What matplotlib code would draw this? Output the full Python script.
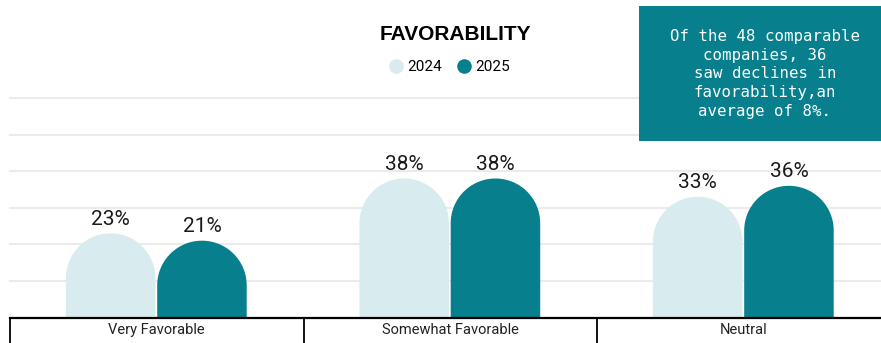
import numpy as np
import matplotlib
matplotlib.use("Agg")
import matplotlib.pyplot as plt
from matplotlib.path import Path
from matplotlib.patches import PathPatch, Rectangle
from matplotlib.lines import Line2D

# ---- data ----
categories = ["Very Favorable", "Somewhat Favorable", "Neutral"]
series_names = ["2024", "2025"]
values_2024 = [23, 38, 33]
values_2025 = [21, 38, 36]
grid_ticks = [10, 20, 30, 40, 50, 60]
title = "FAVORABILITY"
note = "Of the 48 comparable\ncompanies, 36\nsaw declines in\nfavorability,an\naverage of 8%."

# ---- style ----
LIGHT = "#d8ebee"
DARK = "#077f8c"
W, H, DPI = 881, 343, 100

fig = plt.figure(figsize=(W / DPI, H / DPI), dpi=DPI)
fig.patch.set_facecolor("white")

ax_left, ax_bottom_px, ax_top_px = 10, 317.5, 98
ax_width_px = 880.5
ax = fig.add_axes([ax_left / W, (H - ax_bottom_px) / H,
                   ax_width_px / W, (ax_bottom_px - ax_top_px) / H])
ax.set_xlim(-0.5, len(categories) - 0.5)
ax.set_ylim(0, 60)
ax.set_facecolor("none")
for s in ax.spines.values():
    s.set_visible(False)
ax.set_xticks([])
ax.set_yticks([])

# light horizontal gridlines
for g in grid_ticks:
    ax.axhline(g, color="#ebebeb", lw=1.5, zorder=0, clip_on=False)

# pixel-to-data scales so the rounded caps are true semicircles
x_per_px = (len(categories)) / ax_width_px
y_per_px = 60 / (ax_bottom_px - ax_top_px)

bar_w = 0.305
offsets = [-0.157, 0.154]
colors = [LIGHT, DARK]


def rounded_bar(xc, height, width, color):
    half = width / 2
    ry = half / x_per_px * y_per_px
    t = np.linspace(np.pi, 0, 60)
    arc_x = xc + half * np.cos(t)
    arc_y = (height - ry) + ry * np.sin(t)
    verts = [(xc - half, 0)] + list(zip(arc_x, arc_y)) + [(xc + half, 0), (xc - half, 0)]
    codes = [Path.MOVETO] + [Path.LINETO] * (len(verts) - 2) + [Path.CLOSEPOLY]
    ax.add_patch(PathPatch(Path(verts, codes), facecolor=color, edgecolor="none", zorder=2))


for vals, off, col in zip([values_2024, values_2025], offsets, colors):
    for i, v in enumerate(vals):
        xc = i + off
        rounded_bar(xc, v, bar_w, col)
        ax.text(xc, v + 1.3, f"{v}%", ha="center", va="bottom",
                fontsize=15, family="Roboto", color="#1a1a1a", zorder=3)

# baseline and category cells below the plot
ax.axhline(0, color="black", lw=1.6, zorder=4, clip_on=False)
trans = ax.get_xaxis_transform()
cell_bottom = -(H - ax_bottom_px) / (ax_bottom_px - ax_top_px) - 0.05
for b in np.arange(len(categories)) - 0.5:
    ax.plot([b, b], [0, cell_bottom], transform=trans, color="black",
            lw=1.3, clip_on=False, zorder=4)
label_y = -(330 - ax_bottom_px) / (ax_bottom_px - ax_top_px)
for i, c in enumerate(categories):
    ax.text(i, label_y, c, transform=trans, ha="center", va="center",
            fontsize=10.5, family="Roboto", color="#222222")

# title
fig.text(455 / W, 1 - 34 / H, title, ha="center", va="center",
         fontsize=15, fontweight="bold", family="Liberation Sans", color="black")

# legend
handles = [Line2D([], [], marker="o", linestyle="none", markersize=10.5,
                  markerfacecolor=c, markeredgecolor="none") for c in colors]
fig.legend(handles, series_names, loc="center", bbox_to_anchor=(450 / W, 1 - 67 / H),
           ncol=2, frameon=False, handlelength=0.8, handletextpad=0.35,
           columnspacing=1.0, prop={"family": "Roboto", "size": 11})

# annotation box
fig.patches.append(Rectangle((639 / W, 1 - 141.5 / H), (W - 639 + 20) / W, 135.5 / H,
                             transform=fig.transFigure, facecolor=DARK,
                             edgecolor="none", zorder=1))
fig.text(765 / W, 1 - 74 / H, note, ha="center", va="center", color="white",
         fontsize=11.3, family="DejaVu Sans Mono", linespacing=1.3, zorder=2)

fig.savefig("out.png", dpi=DPI, facecolor="white")
